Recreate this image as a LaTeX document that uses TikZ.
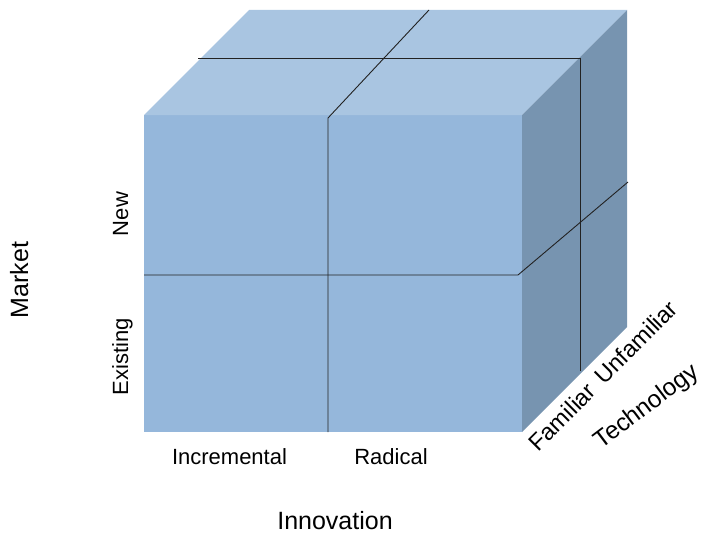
\documentclass[tikz,border=0pt]{standalone}
\usepackage{fontspec}
\setmainfont{Liberation Sans}
\definecolor{frontc}{HTML}{95B7DB}
\definecolor{topc}{HTML}{A9C5E1}
\definecolor{sidec}{HTML}{7794B0}
\definecolor{gridc}{HTML}{222222}
\tikzset{
  gridline/.style={draw=gridc, line width=0.9pt},
  smalllbl/.style={inner sep=0pt, font=\fontsize{22}{26}\selectfont},
  midlbl/.style={inner sep=0pt, font=\fontsize{23.5}{27}\selectfont},
  biglbl/.style={inner sep=0pt, font=\fontsize{25}{29}\selectfont},
}
\begin{document}
\begin{tikzpicture}[x=1pt,y=-1pt]
\useasboundingbox (0,0) rectangle (702,535);
% cube corners
\coordinate (FTL) at (144,115);
\coordinate (FTR) at (522,115);
\coordinate (FBL) at (144,432);
\coordinate (FBR) at (522,432);
\coordinate (BTL) at (249,10);
\coordinate (BTR) at (627,10);
\coordinate (BBR) at (627,327);
% faces
\fill[frontc] (FTL) rectangle (FBR);
\fill[topc] (FTL) -- (BTL) -- (BTR) -- (FTR) -- cycle;
\fill[sidec] (FTR) -- (BTR) -- (BBR) -- (FBR) -- cycle;
% dividing lines
\coordinate (a1) at (198,58);
\coordinate (a2) at (580,58);
\coordinate (a3) at (580,371);
\coordinate (b1) at (429,10);
\coordinate (b2) at (328,118);
\coordinate (b3) at (328,432);
\coordinate (c1) at (144,275);
\coordinate (c2) at (518,275);
\coordinate (c3) at (628,182);
\draw[gridline] (a1) -- (a2) -- (a3);
\draw[gridline] (b1) -- (b2) -- (b3);
\draw[gridline] (c1) -- (c2) -- (c3);
% labels
\node[smalllbl, anchor=base] (inc) at (229.5,464) {Incremental};
\node[smalllbl, anchor=base] (rad) at (391,464) {Radical};
\node[biglbl, anchor=base] (inn) at (335,529) {Innovation};
\node[smalllbl, anchor=base, rotate=90] (new) at (128,214) {New};
\node[smalllbl, anchor=base, rotate=90] (exi) at (128,357) {Existing};
\node[biglbl, anchor=base, rotate=90] (mkt) at (28,280) {Market};
\node[midlbl, rotate=45] (fam) at (562,417) {Familiar};
\node[midlbl, rotate=45] (unf) at (636,342) {Unfamiliar};
\node[inner sep=0pt, font=\fontsize{24.5}{28}\selectfont, rotate=37] (tec) at (647,407) {Technology};
\end{tikzpicture}
\end{document}
